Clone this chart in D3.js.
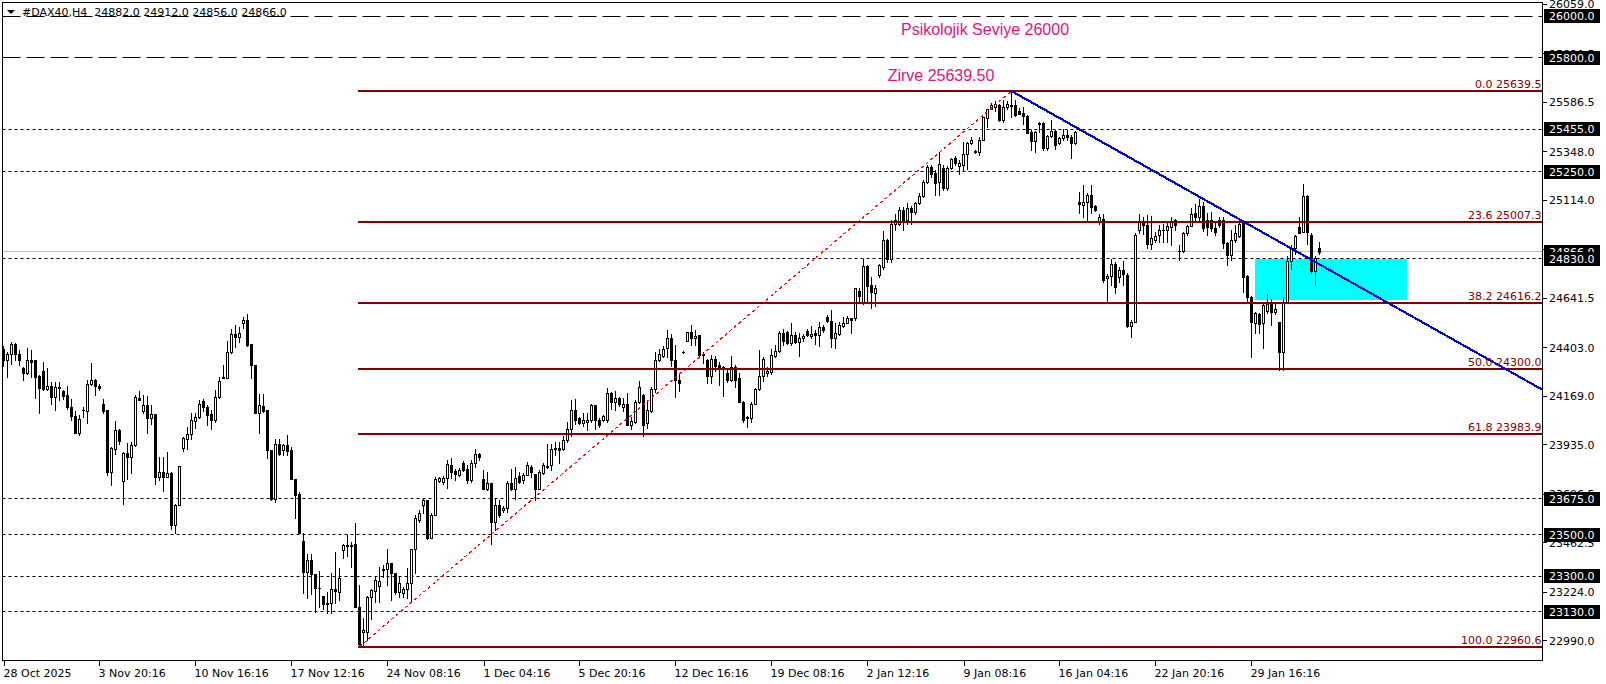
<!DOCTYPE html>
<html><head><meta charset="utf-8">
<script src="https://cdn.jsdelivr.net/npm/d3@7"></script>
<style>html,body{margin:0;padding:0;background:#fff;overflow:hidden}svg{display:block}</style>
</head><body><svg id="c" width="1606" height="684"></svg>
<script>
// ---- data (H4 candles, DAX40) ----
const opens=[24398,24345,24374,24422,24371,24302,24278,24342,24342,24265,24289,24205,24217,24165,24213,24194,24173,24114,24072,23992,24101,24098,24229,24245,24217,24133,24101,23804,23916,24005,23760,23895,23873,23931,24162,24098,24125,24061,24082,23780,23804,23780,23796,23547,23643,23921,23963,23988,24050,24066,24146,24114,24082,24056,24165,24258,24258,24382,24470,24454,24522,24538,24422,24318,24088,24120,24101,23911,23675,23940,23911,23931,23908,23767,23696,23470,23322,23381,23310,23246,23205,23172,23169,23237,23226,23426,23450,23448,23455,23150,23033,23033,23198,23230,23253,23330,23333,23365,23314,23225,23221,23241,23269,23434,23571,23643,23667,23487,23595,23760,23755,23776,23836,23807,23788,23847,23815,23764,23847,23892,23767,23723,23748,23563,23643,23619,23627,23748,23723,23783,23764,23788,23828,23793,23719,23799,23828,23836,23914,23921,23916,23956,24008,24101,24061,24040,24043,24053,24125,24056,24056,24056,24186,24141,24158,24117,24130,24029,24045,24141,24174,24037,24098,24203,24345,24362,24403,24451,24342,24246,24382,24435,24476,24447,24463,24370,24342,24265,24350,24318,24307,24281,24246,24310,24254,24141,24069,24064,24133,24201,24265,24278,24286,24362,24386,24474,24479,24426,24463,24431,24447,24484,24461,24471,24463,24500,24548,24532,24451,24468,24506,24522,24543,24543,24677,24619,24796,24704,24667,24752,24792,24921,24832,24998,24998,25065,25017,25078,25057,25098,25133,25202,25274,25245,25202,25271,25170,25271,25319,25278,25282,25335,25390,25351,25347,25406,25512,25551,25563,25571,25502,25563,25571,25571,25544,25534,25518,25443,25400,25486,25486,25363,25422,25448,25390,25411,25427,25416,25387,25105,25089,25105,25138,25085,25009,25025,24736,24747,24808,24741,24779,24752,24506,24527,24969,25009,24993,24901,24921,24945,24969,24972,24985,25017,24869,24869,24953,24988,25052,25030,25085,25020,25020,24977,25017,25017,24905,24848,24921,24940,25009,24747,24648,24519,24564,24519,24580,24612,24575,24527,24383,24624,24821,24885,24985,24961,25133,24945,24773,24882];
const highs=[24410,24382,24430,24425,24390,24310,24403,24393,24342,24270,24334,24302,24237,24237,24237,24197,24217,24157,24098,24077,24117,24245,24329,24249,24229,24156,24104,23924,24050,24008,23900,23943,23948,24176,24192,24173,24168,24125,24082,23873,23873,23900,23804,23648,23831,23972,24021,24088,24088,24152,24157,24125,24101,24197,24262,24318,24435,24490,24511,24503,24551,24567,24422,24318,24178,24181,24101,23911,23960,23963,23937,23982,23924,23767,23707,23507,23407,23407,23310,23327,23205,23225,23314,23418,23338,23458,23499,23466,23555,23258,23097,23205,23241,23298,23346,23354,23434,23365,23317,23298,23249,23338,23434,23595,23622,23675,23670,23603,23780,23780,23783,23863,23868,23815,23820,23857,23836,23860,23916,23895,23812,23804,23748,23675,23667,23638,23761,23815,23825,23804,23799,23852,23836,23793,23812,23844,23940,23940,23948,23948,23975,24045,24149,24153,24069,24085,24085,24130,24128,24061,24077,24206,24190,24194,24166,24158,24182,24069,24150,24241,24178,24150,24211,24382,24398,24410,24487,24468,24415,24281,24387,24479,24511,24487,24463,24382,24350,24366,24362,24334,24313,24302,24362,24318,24278,24145,24072,24141,24206,24390,24355,24310,24398,24415,24484,24490,24484,24522,24479,24471,24468,24490,24506,24487,24527,24511,24559,24586,24522,24527,24551,24554,24543,24688,24688,24828,24800,24744,24704,24808,24966,24924,25020,25049,25081,25081,25101,25085,25106,25149,25213,25282,25282,25258,25346,25282,25277,25319,25326,25306,25395,25395,25416,25355,25419,25515,25555,25583,25592,25579,25595,25592,25639.5,25595,25560,25563,25523,25451,25448,25491,25491,25427,25502,25454,25419,25459,25454,25427,25448,25154,25186,25149,25186,25089,25049,25046,24757,24832,24816,24792,24821,24760,24535,24953,25049,25033,25041,25036,24961,24993,25001,25009,25033,25025,24897,24961,24993,25078,25097,25117,25105,25052,25057,25004,25033,25033,24913,24969,24993,25017,25017,24752,24651,24575,24570,24619,24660,24635,24623,24527,24648,24843,24897,24945,25033,25190,25138,24953,24843,24912];
const lows=[24313,24262,24326,24342,24318,24245,24274,24262,24162,24085,24200,24200,24130,24104,24149,24157,24109,24053,23990,23982,24066,24037,24221,24173,24197,24088,23788,23739,23892,23937,23648,23767,23796,23929,24149,24085,23992,24033,23747,23764,23712,23780,23526,23511,23643,23905,23916,23964,24017,24061,24098,24029,24008,24045,24162,24254,24257,24379,24406,24430,24499,24411,24258,24088,23993,24093,23868,23670,23659,23884,23884,23884,23767,23579,23507,23221,23193,23217,23127,23153,23140,23121,23121,23169,23185,23386,23397,23346,23150,22960.6,22968,22993,23092,23177,23177,23298,23258,23185,23217,23201,23201,23193,23177,23314,23563,23603,23482,23487,23595,23754,23744,23727,23776,23764,23783,23809,23748,23756,23828,23863,23719,23715,23458,23523,23587,23611,23611,23715,23675,23751,23748,23788,23780,23667,23719,23793,23820,23812,23884,23844,23911,23948,23975,24034,24034,24024,24005,24045,24010,24018,24050,24045,24109,24104,24121,24098,24029,24008,24040,24137,23978,24013,24093,24190,24339,24355,24358,24313,24166,24194,24378,24435,24415,24415,24362,24329,24230,24230,24291,24222,24169,24238,24243,24211,24141,24045,24018,24045,24130,24198,24243,24265,24275,24355,24382,24415,24419,24415,24426,24362,24435,24458,24447,24419,24410,24479,24527,24406,24403,24463,24500,24519,24474,24535,24619,24612,24624,24592,24603,24744,24784,24816,24816,24969,24993,24969,24998,25001,25049,25094,25130,25194,25226,25138,25138,25162,25162,25266,25282,25239,25258,25266,25383,25342,25330,25403,25467,25551,25544,25496,25491,25555,25515,25518,25528,25483,25435,25355,25347,25443,25355,25355,25419,25358,25383,25406,25403,25319,25383,25052,25033,25017,25052,25062,24998,24720,24619,24704,24667,24720,24704,24503,24452,24527,24953,24950,24881,24876,24913,24913,24913,24913,24897,24972,24827,24864,24945,24988,25009,25020,24966,24945,24966,24945,24985,24885,24800,24827,24913,24937,24672,24624,24355,24471,24471,24399,24570,24511,24564,24297,24294,24619,24784,24856,24953,24961,24901,24763,24704,24856];
const closes=[24342,24374,24422,24371,24342,24282,24342,24334,24262,24210,24205,24217,24165,24213,24210,24168,24114,24072,23992,24058,24104,24229,24245,24217,24210,24098,23804,23918,24005,23953,23895,23873,23931,24165,24152,24125,24061,24082,23780,23801,23780,23796,23547,23643,23831,23969,23988,24053,24069,24133,24114,24077,24056,24165,24241,24262,24382,24470,24454,24475,24538,24414,24318,24088,24125,24098,23911,23675,23940,23889,23931,23905,23767,23691,23510,23322,23381,23309,23246,23242,23166,23166,23237,23230,23290,23450,23448,23453,23150,22975,23041,23201,23233,23282,23277,23336,23365,23317,23225,23269,23241,23269,23434,23579,23606,23667,23487,23595,23767,23776,23776,23841,23804,23792,23812,23812,23764,23847,23892,23873,23723,23748,23563,23643,23595,23627,23748,23723,23776,23756,23788,23836,23804,23719,23804,23836,23831,23916,23918,23911,23956,24008,24101,24053,24040,24056,24053,24125,24053,24029,24072,24182,24141,24158,24130,24130,24029,24048,24141,24211,24029,24101,24203,24345,24374,24398,24451,24342,24246,24230,24382,24476,24447,24458,24366,24365,24265,24350,24313,24302,24302,24246,24310,24246,24141,24053,24061,24133,24201,24265,24350,24289,24366,24386,24474,24435,24426,24463,24431,24447,24458,24463,24467,24463,24503,24487,24532,24451,24474,24511,24522,24543,24535,24688,24651,24796,24699,24672,24688,24800,24921,24832,25001,25020,25065,25017,25078,25057,25098,25133,25202,25274,25239,25197,25290,25170,25271,25311,25294,25294,25335,25390,25406,25345,25406,25515,25551,25571,25576,25502,25563,25576,25567,25523,25531,25518,25438,25400,25443,25480,25363,25422,25448,25379,25411,25427,25416,25390,25443,25093,25105,25138,25081,25065,25030,24728,24747,24808,24693,24776,24757,24506,24527,24945,25009,24993,24901,24929,24940,24972,24969,24988,25014,24993,24869,24953,24988,25046,25033,25085,24977,24982,24977,24961,24993,24905,24848,24921,24953,25001,24744,24648,24527,24570,24516,24607,24612,24575,24591,24383,24624,24821,24885,24940,24956,25133,24961,24773,24837,24866];
const dateLabels=["28 Oct 2025","3 Nov 20:16","10 Nov 16:16","17 Nov 12:16","24 Nov 08:16","1 Dec 04:16","5 Dec 20:16","12 Dec 16:16","19 Dec 08:16","2 Jan 12:16","9 Jan 08:16","16 Jan 04:16","22 Jan 20:16","29 Jan 16:16"];
const labelEvery=24;
const axisTicks=[26059.0,25820.5,25586.5,25348.0,25114.0,24875.5,24641.5,24403.0,24169.0,23935.0,23696.5,23462.5,23224.0,22990.0];
const longDashLevels=[26000,25800];
const dotLevels=[25455,25250,24830,23675,23500,23300,23130];
const bidPrice=24866;
const fibRatios=["0.0","23.6","38.2","50.0","61.8","100.0"];
const fibPrices=[25639.5,25007.3,24616.2,24300.0,23983.9,22960.6];
const fibFrom=89, fibTo=252;
const trendPts=[[252,25639.5],[384.6,24201]];
const zone={i0:312.9,i1:350.8,top:24830,bottom:24632};
const header="#DAX40,H4  24882.0 24912.0 24856.0 24866.0";
const note1={text:"Psikolojik Seviye 26000"}, note2={text:"Zirve 25639.50"};

// ---- layout ----
const svg=d3.select("#c");
const L=2.5,R=1542.5,T=2.5,B=660.5;
const x=d3.scaleLinear().domain([0,384.75]).range([3.5,1542.5]);
const y=d3.scaleLinear().domain([22960.6,26000]).range([646.7,16.3]);
const py=p=>Math.round(y(p)-0.5)+0.5;
const font="'DejaVu Sans', Verdana, sans-serif";

svg.append("rect").attr("width",1606).attr("height",684).attr("fill","#fff");
svg.append("defs").append("clipPath").attr("id","pc").append("rect")
  .attr("x",L).attr("y",T).attr("width",R-L).attr("height",B-T);
const g=svg.append("g").attr("clip-path","url(#pc)");

// zone rectangle (background)
g.append("rect").attr("x",Math.round(x(zone.i0))).attr("y",Math.round(y(zone.top)))
  .attr("width",Math.round(x(zone.i1))-Math.round(x(zone.i0)))
  .attr("height",Math.round(y(zone.bottom))-Math.round(y(zone.top))).attr("fill","#00ffff");

// bid line
g.append("line").attr("x1",L).attr("x2",R).attr("y1",py(bidPrice)).attr("y2",py(bidPrice))
  .attr("stroke","#c0c0c0").attr("stroke-width",1);

// level lines
g.selectAll(".ld").data(longDashLevels).join("line").attr("x1",L).attr("x2",R)
  .attr("y1",d=>py(d)).attr("y2",d=>py(d)).attr("stroke","#000").attr("stroke-dasharray","18,6");
g.selectAll(".dl").data(dotLevels).join("line").attr("x1",L).attr("x2",R)
  .attr("y1",d=>py(d)).attr("y2",d=>py(d)).attr("stroke","#000").attr("stroke-dasharray","3,3");

// candles
const cg=g.append("g").attr("shape-rendering","crispEdges");
opens.forEach((o,i)=>{
  const h=highs[i],l=lows[i],c=closes[i];
  const cx=x(i);
  const yh=Math.round(y(h)), yl=Math.round(y(l));
  cg.append("rect").attr("x",cx-0.5).attr("y",yh).attr("width",1).attr("height",Math.max(1,yl-yh+1)).attr("fill","#000");
  const yo=Math.round(y(o)), yc=Math.round(y(c));
  const top=Math.min(yo,yc), bot=Math.max(yo,yc);
  cg.append("rect").attr("x",cx-1.5).attr("y",top).attr("width",3).attr("height",bot-top+1).attr("fill","#000");
  if(c>o && bot-top-1>0){
    cg.append("rect").attr("x",cx-0.5).attr("y",top+1).attr("width",1).attr("height",bot-top-1).attr("fill","#fff");
  }
});

// fibonacci
g.append("line").attr("x1",x(fibFrom)).attr("y1",y(fibPrices[5])).attr("x2",x(fibTo)).attr("y2",y(fibPrices[0]))
  .attr("stroke","#ff0000").attr("stroke-width",1.2).attr("stroke-dasharray","3,3").attr("shape-rendering","crispEdges");
g.selectAll(".fib").data(fibPrices).join("line").attr("x1",x(fibFrom)-1.5).attr("x2",R)
  .attr("y1",d=>Math.round(y(d))).attr("y2",d=>Math.round(y(d))).attr("stroke","#800000").attr("stroke-width",2);
svg.selectAll(".fibt").data(fibPrices).join("text").attr("x",R-1).attr("y",d=>Math.round(y(d))-3)
  .attr("text-anchor","end").attr("font-family",font).attr("font-size",11).attr("fill","#800000")
  .text((d,i)=>fibRatios[i]+" "+d.toFixed(1));

// trend line
const slope=(trendPts[1][1]-trendPts[0][1])/(trendPts[1][0]-trendPts[0][0]);
const iEnd=x.invert(R);
g.append("line").attr("x1",x(trendPts[0][0])).attr("y1",y(trendPts[0][1]))
  .attr("x2",x(iEnd)).attr("y2",y(trendPts[0][1]+slope*(iEnd-trendPts[0][0])))
  .attr("stroke","#0000cd").attr("stroke-width",2.2).attr("shape-rendering","crispEdges");

// notes
svg.append("text").attr("x",985).attr("y",35).attr("text-anchor","middle").attr("font-family","'Liberation Sans', Arial, sans-serif")
  .attr("font-size",16).attr("fill","#e0137e").text(note1.text);
svg.append("text").attr("x",941).attr("y",81).attr("text-anchor","middle").attr("font-family","'Liberation Sans', Arial, sans-serif")
  .attr("font-size",16).attr("fill","#e0137e").text(note2.text);

// frame
svg.append("rect").attr("x",L).attr("y",T).attr("width",R-L).attr("height",B-T).attr("fill","none").attr("stroke","#000").attr("shape-rendering","crispEdges");

// header
svg.append("path").attr("d","M7,10 L15,10 L11,14 Z").attr("fill","#000");
svg.append("text").attr("x",22).attr("y",16).attr("font-family",font).attr("font-size",11).attr("fill","#000").attr("xml:space","preserve").style("white-space","pre").text(header);

// right axis
const ax=svg.append("g");
ax.selectAll(".tk").data(axisTicks).join("line").attr("x1",R).attr("x2",R+4).attr("y1",d=>py(d)).attr("y2",d=>py(d)).attr("stroke","#000").attr("shape-rendering","crispEdges");
ax.selectAll(".tl").data(axisTicks).join("text").attr("x",1549).attr("y",d=>y(d)+4).attr("font-family",font).attr("font-size",11).attr("fill","#000").text(d=>d.toFixed(1));
const boxOrder=[bidPrice].concat(longDashLevels,dotLevels);
boxOrder.forEach(p=>{
  const yy=Math.round(y(p));
  ax.append("rect").attr("x",1544).attr("y",yy-7).attr("width",56).attr("height",14).attr("fill","#000");
  ax.append("text").attr("x",1549).attr("y",yy+4).attr("font-family",font).attr("font-size",11).attr("fill","#fff").text(p.toFixed(1));
});

// bottom axis
const bx=svg.append("g");
dateLabels.forEach((t,k)=>{
  const xx=Math.round(x(k*labelEvery))+0.5;
  bx.append("line").attr("x1",xx).attr("x2",xx).attr("y1",B).attr("y2",B+5).attr("stroke","#000").attr("shape-rendering","crispEdges");
  bx.append("text").attr("x",xx-1).attr("y",677).attr("font-family",font).attr("font-size",11).attr("fill","#000").text(t);
});
</script></body></html>
